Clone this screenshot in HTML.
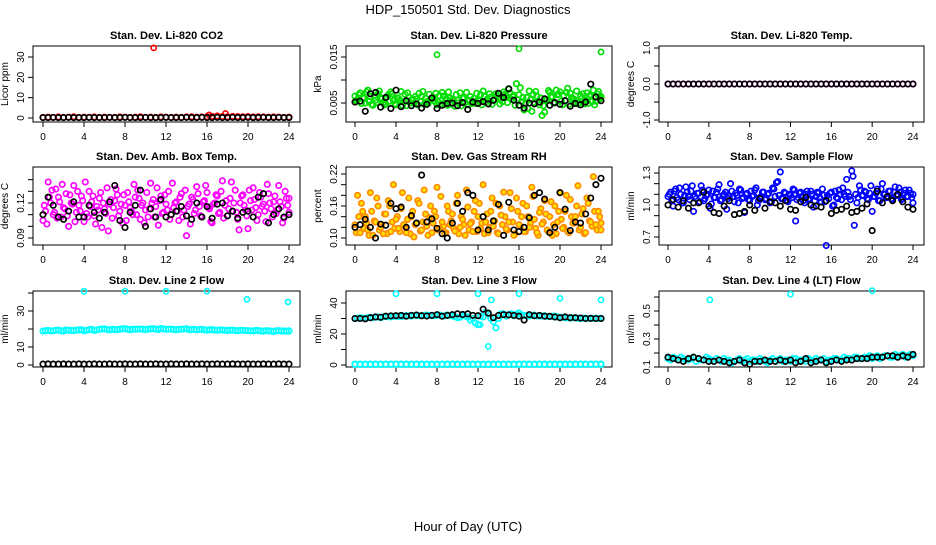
<!DOCTYPE html>
<html><head><meta charset="utf-8"><style>
body{margin:0;background:#fff;width:936px;height:540px;overflow:hidden}
svg{font-family:"Liberation Sans",sans-serif}
</style></head><body>
<svg id="c" width="936" height="540" xmlns="http://www.w3.org/2000/svg">
<text x="468" y="14" text-anchor="middle" font-size="13">HDP_150501  Std. Dev. Diagnostics</text>
<text x="468" y="531" text-anchor="middle" font-size="13">Hour of Day (UTC)</text>
</svg>
<script>
const xTicks=[0,4,8,12,16,20,24];
const co2Color=[0.3,0.4,0.3,0.5,0.3,0.4,0.6,0.3,0.4,0.3,0.5,0.3,0.4,0.3,0.3,0.5,0.4,0.3,0.4,0.6,0.3,0.4,0.3,0.5,0.4,0.3,0.4,0.3,0.5,0.6,0.4,0.5,0.6,0.8,1.0,0.7,0.6,0.8,0.7,0.6,0.7,0.5,0.6,0.5,0.4,0.5,0.4,0.3,0.4];
const co2Black=[0.2,0.2,0.3,0.2,0.2,0.3,0.2,0.2,0.2,0.3,0.2,0.2,0.2,0.3,0.2,0.2,0.3,0.2,0.2,0.2,0.3,0.2,0.2,0.2,0.3,0.2,0.2,0.2,0.3,0.2,0.2,0.3,0.2,0.2,0.3,0.2,0.2,0.3,0.2,0.2,0.3,0.2,0.2,0.3,0.2,0.2,0.3,0.2,0.2];
const co2OutT=[10.8,16.2,17.8];
const co2OutV=[34.5,1.5,2.2];
const presColor=[6.5,5.8,7.2,6.1,5.0,7.8,6.4,4.5,5.6,7.0,6.2,5.1,4.8,6.8,7.4,5.5,4.6,6.0,7.5,5.2,4.4,6.3,5.7,4.9,5.9,7.1,6.5,4.7,5.3,6.9,5.8,5.4,4.6,6.6,7.3,5.0,4.5,6.1,5.8,4.3,5.6,7.2,6.0,5.1,4.6,6.4,5.3,4.9,5.7,6.8,7.6,5.2,4.8,6.3,5.5,7.0,6.1,5.9,7.4,6.6,8.0,5.8,6.7,9.2,6.8,5.3,3.5,6.2,7.6,3.2,5.1,6.5,4.6,2.3,3.0,5.8,7.3,6.4,5.0,6.8,7.4,4.6,5.5,8.2,7.1,6.0,5.2,4.8,6.5,7.0,5.6,4.9,6.8,7.8,5.4,7.5,6.1];
const presColor2=[5.5,6.8,4.9,6.0,7.4,5.3,4.7,6.6,5.1,7.6,5.9,4.6,6.3,5.4,7.0,4.8,6.1,5.6,4.5,6.9,7.2,5.0,5.8,6.4,4.6,5.3,7.5,6.0,4.9,5.7,6.3,7.1,5.2,4.8,6.5,5.9,7.4,4.7,5.5,6.8,5.0,4.4,6.2,7.3,5.6,4.9,6.0,7.1,5.4,4.6,6.4,5.8,7.0,4.7,5.9,6.6,4.8,5.3,6.9,5.1,7.2,6.4,4.5,5.7,8.3,6.2,4.8,3.8,5.7,6.9,7.5,5.2,6.1,4.4,5.6,7.7,6.3,5.0,7.8,6.9,5.4,6.6,7.3,4.7,6.2,5.8,7.6,5.1,6.0,4.8,7.2,6.5,5.3,4.6,7.0,5.9,6.4];
const presBlack=[5.2,5.4,3.2,7.0,7.3,4.1,6.2,3.8,7.8,4.2,5.5,4.4,4.8,3.9,4.7,6.1,3.8,4.5,4.9,5.0,4.4,5.1,3.6,5.2,4.9,5.3,4.8,5.6,7.1,6.2,8.1,5.6,4.5,3.9,5.0,4.8,5.2,5.9,4.5,5.1,4.7,5.5,4.3,4.9,4.6,5.2,9.1,6.3,5.5];
const presOutT=[8,16,24];
const presOutV=[15.5,16.8,16.1];
const tempColor=[0,0,0,0,0,0,0,0,0,0,0,0,0,0,0,0,0,0,0,0,0,0,0,0,0,0,0,0,0,0,0,0,0,0,0,0,0,0,0,0,0,0,0,0,0,0,0,0,0];
const tempBlack=[0,0,0,0,0,0,0,0,0,0,0,0,0,0,0,0,0,0,0,0,0,0,0,0,0,0,0,0,0,0,0,0,0,0,0,0,0,0,0,0,0,0,0,0,0,0,0,0,0];
const ambColor=[105,113,138,120,110,132,125,108,116,128,100,120,135,112,118,126,104,111,130,121,109,117,124,99,115,133,119,107,122,127,113,103,118,129,116,110,125,131,106,120,114,108,137,123,117,101,126,112,119,130,110,116,121,105,128,114,92,119,125,111,134,117,108,122,129,115,103,120,126,112,139,118,109,124,113,131,106,120,127,114,98,122,133,116,110,125,119,104,128,115,121,111,135,117,107,124,112];
const ambColor2=[118,102,125,131,112,107,121,136,115,109,127,119,104,130,113,122,138,108,117,126,102,114,129,120,111,96,123,116,132,109,119,127,105,121,113,136,110,124,118,103,129,115,120,108,133,122,111,127,114,106,137,120,113,125,108,131,117,102,123,114,128,109,121,135,116,104,119,127,111,130,107,122,115,138,120,112,97,126,118,109,131,114,123,105,129,117,113,136,120,108,126,114,121,103,130,118,124];
const ambBlack=[110,125,118,108,106,113,121,108,108,118,112,107,112,121,135,105,99,112,118,131,100,115,108,123,108,110,113,117,109,106,120,108,117,107,119,120,109,113,107,112,113,108,125,128,103,110,115,108,110];
const rhColor=[125,180,110,150,140,115,185,105,130,160,120,108,145,170,112,200,135,118,155,125,110,175,140,102,128,165,115,190,122,138,110,150,195,118,130,108,160,125,145,113,180,120,135,105,158,127,112,170,140,118,200,130,110,150,122,165,108,143,186,117,130,155,105,175,125,140,112,160,120,195,135,110,148,126,170,115,140,105,160,130,185,118,150,112,172,128,140,198,120,155,110,165,130,215,125,150,115];
const rhColor2=[110,140,165,118,128,105,150,132,175,115,125,145,108,160,130,118,140,112,185,122,135,108,150,125,170,113,130,145,105,160,128,140,115,178,122,110,150,132,118,165,108,140,125,190,115,130,150,112,165,128,108,145,120,175,132,110,160,125,140,115,185,130,108,150,122,165,112,140,128,178,118,105,155,130,145,112,168,125,108,150,135,120,180,110,140,128,160,115,145,108,175,132,122,150,115,140,128];
const rhBlack=[120,125,135,120,100,126,124,165,155,158,120,142,128,218,130,136,118,108,100,128,165,150,185,180,115,140,115,132,163,105,167,115,112,120,138,180,185,173,110,120,185,154,114,130,128,145,175,200,212];
const flowColor=[1.08,1.12,0.99,1.15,1.05,1.10,1.02,1.17,1.08,1.13,0.94,1.06,1.11,1.18,1.04,1.09,1.14,1.01,1.07,1.12,1.19,1.05,1.10,0.96,1.08,1.13,1.03,1.09,1.15,1.06,0.93,1.11,1.04,1.08,1.14,1.00,1.07,1.12,1.05,1.10,1.02,1.16,1.08,1.22,1.31,1.06,1.11,1.03,1.09,1.15,0.85,1.07,1.12,1.04,1.10,1.05,1.13,0.98,1.08,1.11,1.03,1.09,0.62,1.06,1.12,1.00,1.07,1.14,1.05,1.10,1.24,1.08,1.32,0.81,1.02,1.18,1.09,1.13,1.06,1.11,0.94,1.08,1.15,1.04,1.20,1.10,1.07,1.13,1.05,1.17,1.09,1.12,1.06,1.14,1.08,1.11,1.02];
const flowColor2=[1.10,1.04,1.13,1.07,1.16,1.02,1.09,1.12,1.05,1.18,1.08,1.11,1.03,1.14,1.06,1.10,0.97,1.13,1.07,1.15,1.04,1.09,1.12,1.06,1.20,1.08,1.11,1.02,1.14,1.07,1.10,1.05,1.13,1.09,1.16,1.04,1.08,1.12,1.06,1.11,1.03,1.15,1.21,1.09,1.06,1.12,1.04,1.10,1.07,1.14,1.05,1.11,1.08,1.02,1.13,1.06,1.10,1.04,1.12,1.07,1.15,1.03,1.09,1.11,0.99,1.13,1.06,1.10,1.16,1.08,1.12,1.05,1.27,1.10,1.07,1.14,1.09,1.12,1.05,1.18,1.08,1.11,1.04,1.15,1.10,1.07,1.13,1.06,1.12,1.09,1.16,1.05,1.11,1.08,1.14,1.07,1.10];
const flowBlack=[1.0,1.05,0.98,1.04,0.97,1.02,1.02,1.12,0.99,0.93,0.92,0.99,1.04,0.91,0.92,0.94,1.0,0.95,1.06,0.97,1.03,1.02,0.99,1.04,0.96,0.95,1.03,1.07,1.0,0.99,0.98,1.04,0.92,0.95,0.96,0.99,0.93,0.94,0.97,1.01,0.76,1.13,1.02,1.08,1.04,1.1,1.03,0.98,0.96];
const l2Color=[18.8,19.2,19.0,19.4,18.9,19.3,19.1,19.5,19.0,19.6,19.2,19.8,20.1,19.5,19.7,19.9,20.2,19.6,19.8,20.0,19.7,20.1,19.9,20.3,19.8,20.0,19.6,19.9,20.2,19.7,19.5,19.8,19.4,19.6,19.3,19.5,19.2,19.4,19.0,19.3,19.1,18.9,19.2,18.8,19.0,18.7,19.1,18.9,18.8];
const l2Color2=[19.1,18.9,19.3,19.0,19.5,19.2,19.4,19.6,19.3,19.8,19.5,20.0,19.7,19.9,19.6,20.1,19.8,19.9,20.0,19.8,19.9,20.2,19.7,20.0,19.9,19.7,19.8,20.0,19.6,19.8,19.7,19.5,19.6,19.4,19.5,19.3,19.4,19.2,19.3,19.1,19.0,19.2,18.9,19.1,18.8,19.0,18.9,18.8,19.0];
const l2Black=[0.5,0.6,0.5,0.5,0.6,0.5,0.5,0.6,0.5,0.5,0.6,0.5,0.5,0.6,0.5,0.5,0.6,0.5,0.5,0.6,0.5,0.5,0.6,0.5,0.5,0.6,0.5,0.5,0.6,0.5,0.5,0.6,0.5,0.5,0.6,0.5,0.5,0.6,0.5,0.5,0.6,0.5,0.5,0.6,0.5,0.5,0.6,0.5,0.5];
const l2OutT=[4,8,12,16,19.9,23.9];
const l2OutV=[41,41,41,41,36.5,35];
const l3Zero=[0.3,0.3,0.3,0.3,0.3,0.3,0.3,0.3,0.3,0.3,0.3,0.3,0.3,0.3,0.3,0.3,0.3,0.3,0.3,0.3,0.3,0.3,0.3,0.3,0.3,0.3,0.3,0.3,0.3,0.3,0.3,0.3,0.3,0.3,0.3,0.3,0.3,0.3,0.3,0.3,0.3,0.3,0.3,0.3,0.3,0.3,0.3,0.3,0.3];
const l3Zero2=[0.6,0.6,0.6,0.6,0.6,0.6,0.6,0.6,0.6,0.6,0.6,0.6,0.6,0.6,0.6,0.6,0.6,0.6,0.6,0.6,0.6,0.6,0.6,0.6,0.6,0.6,0.6,0.6,0.6,0.6,0.6,0.6,0.6,0.6,0.6,0.6,0.6,0.6,0.6,0.6,0.6,0.6,0.6,0.6,0.6,0.6,0.6,0.6,0.6];
const l3Color=[30,30.5,30,30.8,31,30.6,31.2,31,31.5,31.3,31.8,31.5,32,31.7,32.2,31.9,32,31.6,32.3,31.5,30.5,32,31,30,26,31,33,28,30,33,32.5,31.8,33.5,32,31.6,32.2,31.5,31.8,31.2,31.6,30.8,30.5,30.2,30.4,30,30.3,30,30.2,30];
const l3Color2=[30.2,30.3,30.6,30.5,30.9,31.1,31.2,31.4,31.3,31.6,31.7,31.9,31.8,32.1,32.0,31.8,32.2,31.7,31.9,31.2,30.8,31.5,29,27,31.5,34,30,24,33,31.5,33,32.8,32.3,31.9,32.0,31.7,31.6,31.3,31.4,31.0,30.7,30.4,30.5,30.1,30.2,30.0,30.1,30.0,30.1];
const l3Black=[30,30,29.8,30.5,31,30.8,31.5,31.7,31.8,32,31.5,32,32.2,31.8,31.6,32,32.5,31.5,32,32.5,33,32.6,33,32,31.8,36,33.5,30.5,32,32.5,32.3,32,31.5,29,32.5,31.8,32,31.5,31.4,31,30.5,31,30.5,30.5,30.3,30,30.1,30,30];
const l3OutT=[4,8,12,13,13.3,12.2,16,20,24];
const l3OutV=[46,46,46,12,42,26,46,43,42];
const l4Color=[0.16,0.17,0.15,0.16,0.15,0.17,0.16,0.15,0.16,0.14,0.15,0.16,0.15,0.14,0.16,0.15,0.14,0.15,0.16,0.14,0.15,0.14,0.16,0.15,0.14,0.16,0.15,0.14,0.15,0.16,0.15,0.14,0.15,0.16,0.15,0.16,0.15,0.17,0.16,0.17,0.16,0.18,0.17,0.18,0.17,0.18,0.19,0.18,0.19];
const l4Color2=[0.15,0.16,0.17,0.15,0.16,0.14,0.15,0.17,0.15,0.16,0.14,0.15,0.13,0.15,0.14,0.16,0.15,0.14,0.15,0.13,0.16,0.15,0.14,0.15,0.16,0.14,0.15,0.16,0.14,0.15,0.16,0.15,0.16,0.15,0.17,0.16,0.17,0.16,0.17,0.18,0.17,0.16,0.18,0.17,0.19,0.18,0.17,0.19,0.18];
const l4Black=[0.17,0.16,0.15,0.14,0.16,0.17,0.16,0.15,0.14,0.14,0.15,0.14,0.13,0.14,0.15,0.13,0.12,0.14,0.14,0.15,0.14,0.14,0.15,0.14,0.15,0.13,0.14,0.16,0.13,0.14,0.15,0.13,0.14,0.15,0.14,0.15,0.15,0.16,0.16,0.16,0.17,0.17,0.17,0.18,0.18,0.17,0.18,0.17,0.19];
const l4OutT=[4.1,12,20];
const l4OutV=[0.58,0.62,0.645];

const NS="http://www.w3.org/2000/svg";
const svg=document.getElementById('c');
function mk(tag,attrs,parent){const e=document.createElementNS(NS,tag);for(const k in attrs)e.setAttribute(k,attrs[k]);(parent||svg).appendChild(e);return e;}
const cols=[{l:33,r:300,x0:43,x24:289},{l:346,r:612,x0:355,x24:601},{l:659,r:924,x0:668,x24:913}];
const rows=[{t:46,b:122},{t:167,b:245},{t:291,b:367}];

function panel(o){
  const c=cols[o.col],rw=rows[o.row];
  const g=mk('g',{});
  
  
  const xs=t=>c.x0+(c.x24-c.x0)*t/24;
  const ys=v=>o.p0+(o.p1-o.p0)*(v-o.v0)/(o.v1-o.v0);
  const title=mk('text',{x:(c.l+c.r)/2,y:rw.t-7,'text-anchor':'middle','font-size':11,'font-weight':'bold'},g);
  title.textContent=o.title;
  
  
  const box=mk('rect',{x:c.l,y:rw.t,width:c.r-c.l,height:rw.b-rw.t,fill:'none',stroke:'#000','stroke-width':1},g);
  
  
  mk('line',{x1:xs(0),x2:xs(24),y1:rw.b,y2:rw.b,stroke:'#000'},g);
  xTicks.forEach(t=>{
    mk('line',{x1:xs(t),x2:xs(t),y1:rw.b,y2:rw.b+5,stroke:'#000'},g);
    const tx=mk('text',{x:xs(t),y:rw.b+18,'text-anchor':'middle','font-size':10},g);
    tx.textContent=t;
    
    
  });
  const yt0=ys(o.yTicks[0]),yt1=ys(o.yTicks[o.yTicks.length-1]);
  mk('line',{x1:c.l,x2:c.l,y1:yt0,y2:yt1,stroke:'#000'},g);
  o.yTicks.forEach(v=>{mk('line',{x1:c.l-5,x2:c.l,y1:ys(v),y2:ys(v),stroke:'#000'},g);});
  o.yLabels.forEach((s,i)=>{
    const y=ys(o.yLabelVals[i]),x=c.l-9;
    const tx=mk('text',{x:x,y:y,'text-anchor':'middle','font-size':10,transform:`rotate(-90 ${x} ${y})`},g);
    tx.textContent=s;
    
    
  });
  const ax=c.l-25,ay=(rw.t+rw.b)/2;
  const at=mk('text',{x:ax,y:ay,'text-anchor':'middle','font-size':10,transform:`rotate(-90 ${ax} ${ay})`},g);
  at.textContent=o.ylab;
  
  
  const pts=(arr,col,fill,sc,off)=>{const n=arr.length;const st=24/(n-1);arr.forEach((v,i)=>{
    const t=Math.min(24,i*st+off*st);
    const cc=mk('circle',{cx:xs(t),cy:ys(v*sc),r:2.7,fill:fill,stroke:col,'stroke-width':1.7},g);
    
    
  });};
  const sc=o.scale||1;
  (o.extra||[]).forEach(a=>pts(a,o.color,o.fill||'none',sc,0));
  if(o.colored2)pts(o.colored2,o.color,o.fill||'none',sc,0.5);
  pts(o.colored,o.color,o.fill||'none',sc,0);
  if(o.outT){o.outT.forEach((t,i)=>{
    const cc=mk('circle',{cx:xs(t),cy:ys(o.outV[i]*sc),r:2.6,fill:'none',stroke:o.color,'stroke-width':1.6},g);
    
    
  });}
  pts(o.black,'#000','none',sc,0);
}
panel({name:'panel-co2',col:0,row:0,title:'Stan. Dev. Li-820 CO2',ylab:'Licor ppm',v0:0,v1:30,p0:118,p1:57,yTicks:[0,10,20,30],yLabels:['0','10','20','30'],yLabelVals:[0,10,20,30],colored:co2Color,black:co2Black,color:'#ff0000',outT:co2OutT,outV:co2OutV});
panel({name:'panel-pressure',col:1,row:0,title:'Stan. Dev. Li-820 Pressure',ylab:'kPa',v0:0.005,v1:0.015,p0:103,p1:57,yTicks:[0.005,0.010,0.015],yLabels:['0.005','0.015'],yLabelVals:[0.005,0.015],colored:presColor,colored2:presColor2,black:presBlack,color:'#00dd00',scale:0.001,outT:presOutT,outV:presOutV});
panel({name:'panel-temp',col:2,row:0,title:'Stan. Dev. Li-820 Temp.',ylab:'degrees C',v0:-1,v1:1,p0:120,p1:48,yTicks:[-1,-0.5,0,0.5,1],yLabels:['-1.0','0.0','1.0'],yLabelVals:[-1,0,1],colored:tempColor,black:tempBlack,color:'#ff00ff'});
panel({name:'panel-amb-temp',col:0,row:1,title:'Stan. Dev. Amb. Box Temp.',ylab:'degrees C',v0:0.09,v1:0.12,p0:238,p1:203,yTicks:[0.09,0.10,0.11,0.12,0.13,0.14],yLabels:['0.09','0.12'],yLabelVals:[0.09,0.12],colored:ambColor,colored2:ambColor2,black:ambBlack,color:'#ff00ff',scale:0.001});
panel({name:'panel-rh',col:1,row:1,title:'Stan. Dev. Gas Stream RH',ylab:'percent',v0:0.10,v1:0.22,p0:238,p1:174,yTicks:[0.10,0.12,0.14,0.16,0.18,0.20,0.22],yLabels:['0.10','0.16','0.22'],yLabelVals:[0.10,0.16,0.22],colored:rhColor,colored2:rhColor2,black:rhBlack,color:'#ff8c00',fill:'#ffe000',scale:0.001});
panel({name:'panel-sample-flow',col:2,row:1,title:'Stan. Dev. Sample Flow',ylab:'ml/min',v0:0.7,v1:1.3,p0:237,p1:173,yTicks:[0.7,0.8,0.9,1.0,1.1,1.2,1.3],yLabels:['0.7','1.0','1.3'],yLabelVals:[0.7,1.0,1.3],colored:flowColor,colored2:flowColor2,black:flowBlack,color:'#0000ff'});
panel({name:'panel-line2',col:0,row:2,title:'Stan. Dev. Line 2 Flow',ylab:'ml/min',v0:0,v1:30,p0:365,p1:311,yTicks:[0,10,20,30,40],yLabels:['0','10','30'],yLabelVals:[0,10,30],colored:l2Color,colored2:l2Color2,black:l2Black,color:'#00ffff',outT:l2OutT,outV:l2OutV});
panel({name:'panel-line3',col:1,row:2,title:'Stan. Dev. Line 3 Flow',ylab:'ml/min',v0:0,v1:40,p0:365,p1:303,yTicks:[0,10,20,30,40],yLabels:['0','20','40'],yLabelVals:[0,20,40],extra:[l3Zero,l3Zero2],colored:l3Color,colored2:l3Color2,black:l3Black,color:'#00ffff',outT:l3OutT,outV:l3OutV});
panel({name:'panel-line4',col:2,row:2,title:'Stan. Dev. Line 4 (LT) Flow',ylab:'ml/min',v0:0.1,v1:0.5,p0:367,p1:311,yTicks:[0.1,0.2,0.3,0.4,0.5,0.6],yLabels:['0.1','0.3','0.5'],yLabelVals:[0.1,0.3,0.5],colored:l4Color,colored2:l4Color2,black:l4Black,color:'#00ffff',outT:l4OutT,outV:l4OutV});
</script>
</body></html>
